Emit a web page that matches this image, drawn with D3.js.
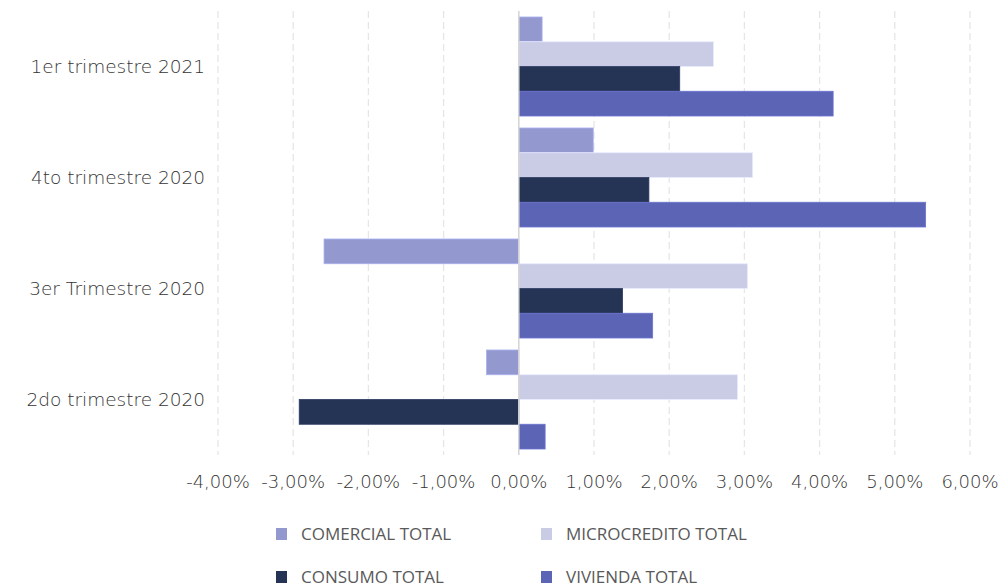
<!DOCTYPE html>
<html>
<head>
<meta charset="utf-8">
<script src="https://cdn.jsdelivr.net/npm/d3@7"></script>
<style>
  body { margin: 0; background: #fff; }
  svg { display: block; }
  .tick-label { font-family: "DejaVu Sans", sans-serif; font-weight: 200; fill: #333333; }
  .legend-label { font-family: "Open Sans", "Liberation Sans", sans-serif; fill: #595959; }
</style>
</head>
<body>
<div id="chart"></div>
<script>
// categories listed top to bottom
const categories = ['1er trimestre 2021', '4to trimestre 2020', '3er Trimestre 2020', '2do trimestre 2020'];
const seriesNames = ['COMERCIAL TOTAL', 'MICROCREDITO TOTAL', 'CONSUMO TOTAL', 'VIVIENDA TOTAL'];
const seriesColors = ['#9399cf', '#cacce6', '#253355', '#5c64b5'];

// values in %, one array per series, same order as categories
const comercial = [0.31, 0.99, -2.59, -0.43];
const microcredito = [2.59, 3.11, 3.04, 2.91];
const consumo = [2.14, 1.73, 1.38, -2.92];
const vivienda = [4.18, 5.41, 1.78, 0.35];

const xTicks = [-4, -3, -2, -1, 0, 1, 2, 3, 4, 5, 6];

const series = [comercial, microcredito, consumo, vivienda];

const width = 1002, height = 587;
const svg = d3.select('#chart').append('svg')
    .attr('width', width)
    .attr('height', height);

const x = d3.scaleLinear().domain([-4, 6]).range([218, 970]);
const y = d3.scaleBand().domain(categories).range([11, 455]).paddingInner(0.108).paddingOuter(0.054);
const ySub = d3.scaleBand().domain(d3.range(seriesNames.length)).range([0, y.bandwidth()]);

// gridlines
svg.append('g')
    .selectAll('line')
    .data(xTicks.filter(t => t !== 0))
    .enter().append('line')
    .attr('x1', d => x(d)).attr('x2', d => x(d))
    .attr('y1', 11).attr('y2', 455)
    .attr('stroke', '#e6e6e6')
    .attr('stroke-width', 1.3)
    .attr('stroke-dasharray', '7,4');

// bars
const rows = categories.map((c, i) => ({
    cat: c,
    vals: series.map((s, k) => ({ k, v: s[i] }))
}));

const group = svg.append('g')
    .selectAll('g')
    .data(rows)
    .enter().append('g')
    .attr('transform', d => `translate(0,${y(d.cat)})`);

group.selectAll('rect')
    .data(d => d.vals)
    .enter().append('rect')
    .attr('x', d => x(Math.min(0, d.v)))
    .attr('width', d => Math.abs(x(d.v) - x(0)))
    .attr('y', d => ySub(d.k))
    .attr('height', ySub.bandwidth())
    .attr('fill', d => seriesColors[d.k])
    .attr('stroke', d => d3.color(seriesColors[d.k]).brighter(0.4))
    .attr('stroke-width', 0.8);

// zero line
svg.append('line')
    .attr('x1', x(0)).attr('x2', x(0))
    .attr('y1', 11).attr('y2', 455)
    .attr('stroke', '#d4d4d4')
    .attr('stroke-width', 1.5);

// x tick labels
svg.append('g')
    .selectAll('text')
    .data(xTicks)
    .enter().append('text')
    .attr('class', 'tick-label')
    .attr('x', d => x(d))
    .attr('y', 482)
    .attr('dy', '0.35em')
    .attr('text-anchor', 'middle')
    .style('font-size', '18px')
    .text(d => d3.format('.2f')(d).replace('.', ',').replace('\u2212', '-') + '%');

// y labels
svg.append('g')
    .selectAll('text')
    .data(categories)
    .enter().append('text')
    .attr('class', 'tick-label')
    .attr('x', 205)
    .attr('y', d => y(d) + y.bandwidth() / 2)
    .attr('dy', '0.35em')
    .attr('text-anchor', 'end')
    .style('font-size', '18.5px')
    .text(d => d);

// legend
const legendPos = [[276, 534], [541, 534], [276, 577], [541, 577]];
const legend = svg.append('g')
    .selectAll('g')
    .data(seriesNames)
    .enter().append('g')
    .attr('transform', (d, i) => `translate(${legendPos[i][0]},${legendPos[i][1]})`);

legend.append('rect')
    .attr('x', 0).attr('y', -6)
    .attr('width', 11).attr('height', 12)
    .attr('fill', (d, i) => seriesColors[i]);

legend.append('text')
    .attr('class', 'legend-label')
    .attr('x', 25)
    .attr('dy', '0.35em')
    .style('font-size', '17px')
    .text(d => d);
</script>
</body>
</html>
